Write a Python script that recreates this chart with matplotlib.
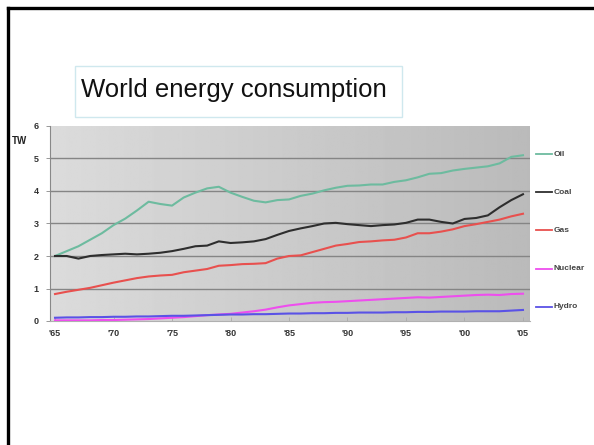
import numpy as np
import matplotlib
matplotlib.use("Agg")
import matplotlib.pyplot as plt
from matplotlib.patches import Rectangle
from matplotlib.lines import Line2D

plt.rcParams['font.family'] = ['Liberation Sans', 'DejaVu Sans']

years = list(range(1965, 2006))

oil = [2.00, 2.15, 2.30, 2.50, 2.70, 2.95, 3.15, 3.40, 3.67, 3.60,
       3.55, 3.80, 3.95, 4.08, 4.13, 3.95, 3.82, 3.70, 3.65, 3.72,
       3.74, 3.85, 3.92, 4.02, 4.10, 4.16, 4.17, 4.20, 4.20, 4.28,
       4.33, 4.42, 4.53, 4.55, 4.63, 4.68, 4.72, 4.76, 4.85, 5.05, 5.10]
coal = [2.00, 2.00, 1.92, 2.00, 2.03, 2.05, 2.07, 2.05, 2.07, 2.10,
        2.15, 2.22, 2.30, 2.32, 2.45, 2.40, 2.42, 2.45, 2.52, 2.65,
        2.77, 2.85, 2.92, 3.00, 3.02, 2.98, 2.95, 2.92, 2.95, 2.97,
        3.02, 3.12, 3.12, 3.05, 3.00, 3.14, 3.17, 3.25, 3.50, 3.72, 3.90]
gas = [0.83, 0.90, 0.96, 1.02, 1.10, 1.18, 1.25, 1.32, 1.37, 1.40,
       1.42, 1.50, 1.55, 1.60, 1.70, 1.72, 1.75, 1.76, 1.78, 1.92,
       2.00, 2.02, 2.12, 2.22, 2.32, 2.37, 2.43, 2.45, 2.48, 2.50,
       2.57, 2.70, 2.70, 2.75, 2.82, 2.92, 2.98, 3.05, 3.12, 3.22, 3.30]
nuclear = [0.02, 0.02, 0.02, 0.02, 0.03, 0.03, 0.04, 0.05, 0.06, 0.08,
           0.10, 0.12, 0.15, 0.18, 0.20, 0.22, 0.26, 0.30, 0.35, 0.42,
           0.48, 0.52, 0.56, 0.58, 0.59, 0.61, 0.63, 0.65, 0.67, 0.69,
           0.71, 0.73, 0.72, 0.74, 0.76, 0.78, 0.80, 0.81, 0.80, 0.83, 0.84]
hydro = [0.10, 0.11, 0.11, 0.12, 0.12, 0.13, 0.13, 0.14, 0.14, 0.15,
         0.16, 0.16, 0.17, 0.18, 0.19, 0.20, 0.20, 0.21, 0.21, 0.22,
         0.23, 0.23, 0.24, 0.24, 0.25, 0.25, 0.26, 0.26, 0.26, 0.27,
         0.27, 0.28, 0.28, 0.29, 0.29, 0.29, 0.30, 0.30, 0.30, 0.32, 0.34]

series_names = ["Oil", "Coal", "Gas", "Nuclear", "Hydro"]
series_colors = ["#6dbb9f", "#2e2e2e", "#e8504e", "#ee4eee", "#5a52e6"]
series_values = [oil, coal, gas, nuclear, hydro]

tick_years = [1965, 1970, 1975, 1980, 1985, 1990, 1995, 2000, 2005]
tick_labels = ["'65", "'70", "'75", "'80", "'85", "'90", "'95", "'00", "'05"]

W, H = 594, 445
fig = plt.figure(figsize=(W / 100, H / 100), dpi=100)
fig.patch.set_facecolor("white")

# slide frame (left and top edges)
fig.add_artist(Line2D([7.5 / W, 7.5 / W], [0, 1 - 7.5 / H], color="black", lw=2.4,
                      transform=fig.transFigure))
fig.add_artist(Line2D([7.5 / W, 1], [1 - 7.5 / H, 1 - 7.5 / H], color="black", lw=2.4,
                      transform=fig.transFigure))

# title box
fig.add_artist(Rectangle((75 / W, 1 - 117 / H), 327 / W, 51 / H, transform=fig.transFigure,
                         facecolor="white", edgecolor="#cfe8ee", lw=1.0))
fig.text(81 / W, 1 - 90 / H, "World energy consumption", fontsize=18.5,
         va="center", ha="left", color="#111111")

ax = fig.add_axes([50 / W, 1 - 321 / H, 480 / W, 195 / H])
ax.set_xlim(1964.57, 2005.6)
ax.set_ylim(0, 6)

# horizontal shaded background
grad = np.linspace(0.86, 0.73, 256).reshape(1, -1)
ax.imshow(grad, cmap="gray", vmin=0, vmax=1, aspect="auto",
          extent=[1964.57, 2005.6, 0, 6], zorder=0)

for v in range(1, 6):
    ax.axhline(v, color="#858585", lw=1.0, zorder=1)

for vals, col in zip(series_values, series_colors):
    ax.plot(years, vals, color=col, lw=1.5, zorder=3)

for s in ["top", "right"]:
    ax.spines[s].set_visible(False)
ax.spines["left"].set_color("#888888")
ax.spines["bottom"].set_color("#b0b0b0")
ax.spines["left"].set_linewidth(0.8)
ax.spines["bottom"].set_linewidth(0.8)

ax.set_yticks(range(0, 7))
ax.set_yticklabels([str(v) for v in range(0, 7)], fontsize=6.5, fontweight="bold", color="#333333")
ax.set_xticks(tick_years)
ax.set_xticklabels(tick_labels, fontsize=6.5, fontweight="bold", color="#333333")
ax.tick_params(axis="y", length=3, width=0.6, color="#888888", pad=5)
ax.tick_params(axis="x", length=3, width=0.6, color="#aaaaaa", pad=6, direction="in")

fig.text(12 / W, 1 - 141 / H, "TW", fontsize=7, fontweight="bold", color="#222222",
         ha="left", va="center")

# legend entries at right
legend_y = [154, 192, 230, 269, 307]
for name, col, yy in zip(series_names, series_colors, legend_y):
    fig.add_artist(Line2D([536 / W, 552 / W], [1 - yy / H, 1 - yy / H], color=col, lw=1.3,
                          transform=fig.transFigure))
    fig.text(554 / W, 1 - yy / H, name, fontsize=6, color="#444444", ha="left",
             va="center", fontweight="bold")

fig.savefig("out.png", dpi=100, facecolor="white")
